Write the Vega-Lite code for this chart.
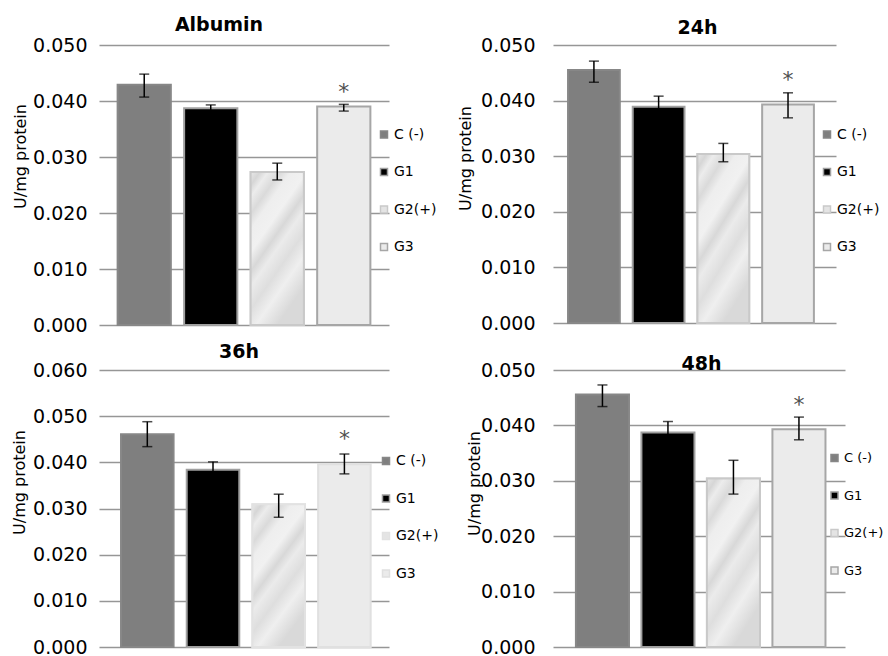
{
  "$schema": "https://vega.github.io/schema/vega-lite/v6.json",
  "padding": {"left": 10, "top": 15, "right": 5, "bottom": 5},
  "datasets": {
    "d": [
      {"panel": "Albumin", "group": "C (-)", "value": 0.0429, "lo": 0.0407, "hi": 0.0448, "star": ""},
      {"panel": "Albumin", "group": "G1", "value": 0.0387, "lo": 0.0382, "hi": 0.0393, "star": ""},
      {"panel": "Albumin", "group": "G2(+)", "value": 0.0273, "lo": 0.0259, "hi": 0.0289, "star": ""},
      {"panel": "Albumin", "group": "G3", "value": 0.0390, "lo": 0.0382, "hi": 0.0394, "star": "*"},
      {"panel": "24h", "group": "C (-)", "value": 0.0455, "lo": 0.0433, "hi": 0.0471, "star": ""},
      {"panel": "24h", "group": "G1", "value": 0.0389, "lo": 0.0370, "hi": 0.0408, "star": ""},
      {"panel": "24h", "group": "G2(+)", "value": 0.0304, "lo": 0.0290, "hi": 0.0323, "star": ""},
      {"panel": "24h", "group": "G3", "value": 0.0393, "lo": 0.0369, "hi": 0.0414, "star": "*"},
      {"panel": "36h", "group": "C (-)", "value": 0.0461, "lo": 0.0434, "hi": 0.0488, "star": ""},
      {"panel": "36h", "group": "G1", "value": 0.0384, "lo": 0.0366, "hi": 0.0401, "star": ""},
      {"panel": "36h", "group": "G2(+)", "value": 0.0309, "lo": 0.0281, "hi": 0.0331, "star": ""},
      {"panel": "36h", "group": "G3", "value": 0.0396, "lo": 0.0375, "hi": 0.0418, "star": "*"},
      {"panel": "48h", "group": "C (-)", "value": 0.0456, "lo": 0.0434, "hi": 0.0473, "star": ""},
      {"panel": "48h", "group": "G1", "value": 0.0387, "lo": 0.0367, "hi": 0.0407, "star": ""},
      {"panel": "48h", "group": "G2(+)", "value": 0.0304, "lo": 0.0276, "hi": 0.0337, "star": ""},
      {"panel": "48h", "group": "G3", "value": 0.0393, "lo": 0.0374, "hi": 0.0415, "star": "*"}
    ]
  },
  "config": {
    "font": "DejaVu Sans",
    "view": {"stroke": null},
    "axis": {"domain": false, "ticks": false, "grid": true, "gridColor": "#969696", "gridWidth": 1.5, "labelFontSize": 19, "labelColor": "#000000", "titleFontSize": 16, "titleFontWeight": "normal", "titleColor": "#000000", "titleBaseline": "alphabetic"},
    "legend": {"orient": "none", "title": null, "symbolType": "square", "symbolSize": 49, "symbolStrokeWidth": 1.5, "labelFontSize": 14, "labelColor": "#000000", "labelOffset": 3, "rowPadding": 23.5, "padding": 0},
    "title": {"fontSize": 19, "fontWeight": "bold", "anchor": "middle", "frame": "group", "baseline": "alphabetic", "color": "#000000"}
  },
  "columns": 2,
  "spacing": {"row": 45, "column": 164},
  "bounds": "flush",
  "resolve": {"scale": {"x": "independent", "y": "independent", "fill": "independent", "stroke": "independent"}, "legend": {"fill": "independent", "stroke": "independent"}},
  "concat": [
    {
      "title": {"text": "Albumin", "dx": -25, "offset": 1.5},
      "width": 290, "height": 280,
      "data": {"name": "d"},
      "transform": [{"filter": "datum.panel === 'Albumin'"}],
      "encoding": {"x": {"field": "group", "type": "nominal", "sort": null, "axis": null, "scale": {"paddingInner": 0.2, "paddingOuter": 0.28, "align": 0.5}}},
      "layer": [
        {"mark": {"type": "bar", "strokeWidth": 2},
         "encoding": {
           "y": {"field": "value", "type": "quantitative", "title": "U/mg protein", "scale": {"domain": [0, 0.05], "nice": false}, "axis": {"values": [0, 0.01, 0.02, 0.03, 0.04, 0.05], "format": ".3f", "labelPadding": 12, "titleX": -74, "titleY": 111}},
           "fill": {"field": "group", "type": "nominal", "sort": null, "scale": {"domain": ["C (-)", "G1", "G2(+)", "G3"], "range": ["#7f7f7f", "#000000", "#e4e4e4", "#ebebeb"]}, "legend": {"legendX": 278, "legendY": 82.5}},
           "stroke": {"field": "group", "type": "nominal", "sort": null, "scale": {"domain": ["C (-)", "G1", "G2(+)", "G3"], "range": ["#878787", "#a0a0a0", "#c9c9c9", "#a6a6a6"]}, "legend": {"legendX": 278, "legendY": 82.5}}
         }},
        {"transform": [{"filter": "datum.group === 'G2(+)'"}],
         "mark": {"type": "bar", "stroke": "#c9c9c9", "strokeWidth": 2, "fill": {"gradient": "linear", "x1": 0, "y1": 0, "x2": 0.5, "y2": 1, "stops": [{"offset": 0, "color": "#e8e8e8"}, {"offset": 0.07, "color": "#d6d6d6"}, {"offset": 0.13, "color": "#ececec"}, {"offset": 0.22, "color": "#dadada"}, {"offset": 0.3, "color": "#eeeeee"}, {"offset": 0.42, "color": "#f1f1f1"}, {"offset": 0.52, "color": "#d8d8d8"}, {"offset": 0.6, "color": "#ebebeb"}, {"offset": 0.72, "color": "#dedede"}, {"offset": 0.84, "color": "#efefef"}, {"offset": 1, "color": "#d9d9d9"}]}},
         "encoding": {"y": {"field": "value", "type": "quantitative", "title": "U/mg protein"}}},
        {"mark": {"type": "rule", "color": "#000000", "strokeWidth": 1.5},
         "encoding": {"y": {"field": "lo", "type": "quantitative", "title": "U/mg protein"}, "y2": {"field": "hi"}}},
        {"mark": {"type": "tick", "color": "#000000", "thickness": 1.5, "size": 10},
         "encoding": {"y": {"field": "lo", "type": "quantitative", "title": "U/mg protein"}}},
        {"mark": {"type": "tick", "color": "#000000", "thickness": 1.5, "size": 10},
         "encoding": {"y": {"field": "hi", "type": "quantitative", "title": "U/mg protein"}}},
        {"transform": [{"filter": "datum.star !== ''"}],
         "mark": {"type": "text", "fontSize": 22, "fill": "#505050", "baseline": "alphabetic", "dy": -5},
         "encoding": {"y": {"field": "hi", "type": "quantitative", "title": "U/mg protein"}, "text": {"field": "star"}}}
      ]
    },
    {
      "title": {"text": "24h", "dx": 3, "offset": -2},
      "width": 283, "height": 278,
      "data": {"name": "d"},
      "transform": [{"filter": "datum.panel === '24h'"}],
      "encoding": {"x": {"field": "group", "type": "nominal", "sort": null, "axis": null, "scale": {"paddingInner": 0.2, "paddingOuter": 0.287, "align": 0.405}}},
      "layer": [
        {"mark": {"type": "bar", "strokeWidth": 2},
         "encoding": {
           "y": {"field": "value", "type": "quantitative", "title": "U/mg protein", "scale": {"domain": [0, 0.05], "nice": false}, "axis": {"values": [0, 0.01, 0.02, 0.03, 0.04, 0.05], "format": ".3f", "labelPadding": 18, "titleX": -83, "titleY": 113}},
           "fill": {"field": "group", "type": "nominal", "sort": null, "scale": {"domain": ["C (-)", "G1", "G2(+)", "G3"], "range": ["#7f7f7f", "#000000", "#e4e4e4", "#ebebeb"]}, "legend": {"legendX": 267, "legendY": 82.5}},
           "stroke": {"field": "group", "type": "nominal", "sort": null, "scale": {"domain": ["C (-)", "G1", "G2(+)", "G3"], "range": ["#878787", "#a0a0a0", "#c9c9c9", "#a6a6a6"]}, "legend": {"legendX": 267, "legendY": 82.5}}
         }},
        {"transform": [{"filter": "datum.group === 'G2(+)'"}],
         "mark": {"type": "bar", "stroke": "#c9c9c9", "strokeWidth": 2, "fill": {"gradient": "linear", "x1": 0, "y1": 0, "x2": 0.5, "y2": 1, "stops": [{"offset": 0, "color": "#e8e8e8"}, {"offset": 0.07, "color": "#d6d6d6"}, {"offset": 0.13, "color": "#ececec"}, {"offset": 0.22, "color": "#dadada"}, {"offset": 0.3, "color": "#eeeeee"}, {"offset": 0.42, "color": "#f1f1f1"}, {"offset": 0.52, "color": "#d8d8d8"}, {"offset": 0.6, "color": "#ebebeb"}, {"offset": 0.72, "color": "#dedede"}, {"offset": 0.84, "color": "#efefef"}, {"offset": 1, "color": "#d9d9d9"}]}},
         "encoding": {"y": {"field": "value", "type": "quantitative", "title": "U/mg protein"}}},
        {"mark": {"type": "rule", "color": "#000000", "strokeWidth": 1.5},
         "encoding": {"y": {"field": "lo", "type": "quantitative", "title": "U/mg protein"}, "y2": {"field": "hi"}}},
        {"mark": {"type": "tick", "color": "#000000", "thickness": 1.5, "size": 10},
         "encoding": {"y": {"field": "lo", "type": "quantitative", "title": "U/mg protein"}}},
        {"mark": {"type": "tick", "color": "#000000", "thickness": 1.5, "size": 10},
         "encoding": {"y": {"field": "hi", "type": "quantitative", "title": "U/mg protein"}}},
        {"transform": [{"filter": "datum.star !== ''"}],
         "mark": {"type": "text", "fontSize": 22, "fill": "#505050", "baseline": "alphabetic", "dy": -6},
         "encoding": {"y": {"field": "hi", "type": "quantitative", "title": "U/mg protein"}, "text": {"field": "star"}}}
      ]
    },
    {
      "title": {"text": "36h", "dx": -5, "offset": -0.7},
      "width": 290, "height": 277,
      "data": {"name": "d"},
      "transform": [{"filter": "datum.panel === '36h'"}],
      "encoding": {"x": {"field": "group", "type": "nominal", "sort": null, "axis": null, "scale": {"paddingInner": 0.2, "paddingOuter": 0.307, "align": 0.546}}},
      "layer": [
        {"mark": {"type": "bar", "strokeWidth": 2},
         "encoding": {
           "y": {"field": "value", "type": "quantitative", "title": "U/mg protein", "scale": {"domain": [0, 0.06], "nice": false}, "axis": {"values": [0, 0.01, 0.02, 0.03, 0.04, 0.05, 0.06], "format": ".3f", "labelPadding": 12, "titleX": -75, "titleY": 112}},
           "fill": {"field": "group", "type": "nominal", "sort": null, "scale": {"domain": ["C (-)", "G1", "G2(+)", "G3"], "range": ["#7f7f7f", "#000000", "#e4e4e4", "#ebebeb"]}, "legend": {"legendX": 280, "legendY": 84}},
           "stroke": {"field": "group", "type": "nominal", "sort": null, "scale": {"domain": ["C (-)", "G1", "G2(+)", "G3"], "range": ["#878787", "#a0a0a0", "#e2e2e2", "#e0e0e0"]}, "legend": {"legendX": 280, "legendY": 84}}
         }},
        {"transform": [{"filter": "datum.group === 'G2(+)'"}],
         "mark": {"type": "bar", "stroke": "#e2e2e2", "strokeWidth": 2, "fill": {"gradient": "linear", "x1": 0, "y1": 0, "x2": 0.5, "y2": 1, "stops": [{"offset": 0, "color": "#e8e8e8"}, {"offset": 0.07, "color": "#d6d6d6"}, {"offset": 0.13, "color": "#ececec"}, {"offset": 0.22, "color": "#dadada"}, {"offset": 0.3, "color": "#eeeeee"}, {"offset": 0.42, "color": "#f1f1f1"}, {"offset": 0.52, "color": "#d8d8d8"}, {"offset": 0.6, "color": "#ebebeb"}, {"offset": 0.72, "color": "#dedede"}, {"offset": 0.84, "color": "#efefef"}, {"offset": 1, "color": "#d9d9d9"}]}},
         "encoding": {"y": {"field": "value", "type": "quantitative", "title": "U/mg protein"}}},
        {"mark": {"type": "rule", "color": "#000000", "strokeWidth": 1.5},
         "encoding": {"y": {"field": "lo", "type": "quantitative", "title": "U/mg protein"}, "y2": {"field": "hi"}}},
        {"mark": {"type": "tick", "color": "#000000", "thickness": 1.5, "size": 10},
         "encoding": {"y": {"field": "lo", "type": "quantitative", "title": "U/mg protein"}}},
        {"mark": {"type": "tick", "color": "#000000", "thickness": 1.5, "size": 10},
         "encoding": {"y": {"field": "hi", "type": "quantitative", "title": "U/mg protein"}}},
        {"transform": [{"filter": "datum.star !== ''"}],
         "mark": {"type": "text", "fontSize": 22, "fill": "#505050", "baseline": "alphabetic", "dy": -8},
         "encoding": {"y": {"field": "hi", "type": "quantitative", "title": "U/mg protein"}, "text": {"field": "star"}}}
      ]
    },
    {
      "title": {"text": "48h", "dx": 2.5, "offset": -13.3},
      "width": 292, "height": 277,
      "data": {"name": "d"},
      "transform": [{"filter": "datum.panel === '48h'"}],
      "encoding": {"x": {"field": "group", "type": "nominal", "sort": null, "axis": null, "scale": {"paddingInner": 0.19, "paddingOuter": 0.324, "align": 0.54}}},
      "layer": [
        {"mark": {"type": "bar", "strokeWidth": 2},
         "encoding": {
           "y": {"field": "value", "type": "quantitative", "title": "U/mg protein", "scale": {"domain": [0, 0.05], "nice": false}, "axis": {"values": [0, 0.01, 0.02, 0.03, 0.04, 0.05], "format": ".3f", "labelPadding": 18, "titleX": -74, "titleY": 113}},
           "fill": {"field": "group", "type": "nominal", "sort": null, "scale": {"domain": ["C (-)", "G1", "G2(+)", "G3"], "range": ["#7f7f7f", "#000000", "#e4e4e4", "#ebebeb"]}, "legend": {"legendX": 275, "legendY": 81.5, "labelFontSize": 13}},
           "stroke": {"field": "group", "type": "nominal", "sort": null, "scale": {"domain": ["C (-)", "G1", "G2(+)", "G3"], "range": ["#878787", "#a0a0a0", "#c9c9c9", "#a6a6a6"]}, "legend": {"legendX": 275, "legendY": 81.5, "labelFontSize": 13}}
         }},
        {"transform": [{"filter": "datum.group === 'G2(+)'"}],
         "mark": {"type": "bar", "stroke": "#c9c9c9", "strokeWidth": 2, "fill": {"gradient": "linear", "x1": 0, "y1": 0, "x2": 0.5, "y2": 1, "stops": [{"offset": 0, "color": "#e8e8e8"}, {"offset": 0.07, "color": "#d6d6d6"}, {"offset": 0.13, "color": "#ececec"}, {"offset": 0.22, "color": "#dadada"}, {"offset": 0.3, "color": "#eeeeee"}, {"offset": 0.42, "color": "#f1f1f1"}, {"offset": 0.52, "color": "#d8d8d8"}, {"offset": 0.6, "color": "#ebebeb"}, {"offset": 0.72, "color": "#dedede"}, {"offset": 0.84, "color": "#efefef"}, {"offset": 1, "color": "#d9d9d9"}]}},
         "encoding": {"y": {"field": "value", "type": "quantitative", "title": "U/mg protein"}}},
        {"mark": {"type": "rule", "color": "#000000", "strokeWidth": 1.5},
         "encoding": {"y": {"field": "lo", "type": "quantitative", "title": "U/mg protein"}, "y2": {"field": "hi"}}},
        {"mark": {"type": "tick", "color": "#000000", "thickness": 1.5, "size": 10},
         "encoding": {"y": {"field": "lo", "type": "quantitative", "title": "U/mg protein"}}},
        {"mark": {"type": "tick", "color": "#000000", "thickness": 1.5, "size": 10},
         "encoding": {"y": {"field": "hi", "type": "quantitative", "title": "U/mg protein"}}},
        {"transform": [{"filter": "datum.star !== ''"}],
         "mark": {"type": "text", "fontSize": 22, "fill": "#505050", "baseline": "alphabetic", "dy": -5},
         "encoding": {"y": {"field": "hi", "type": "quantitative", "title": "U/mg protein"}, "text": {"field": "star"}}}
      ]
    }
  ]
}
